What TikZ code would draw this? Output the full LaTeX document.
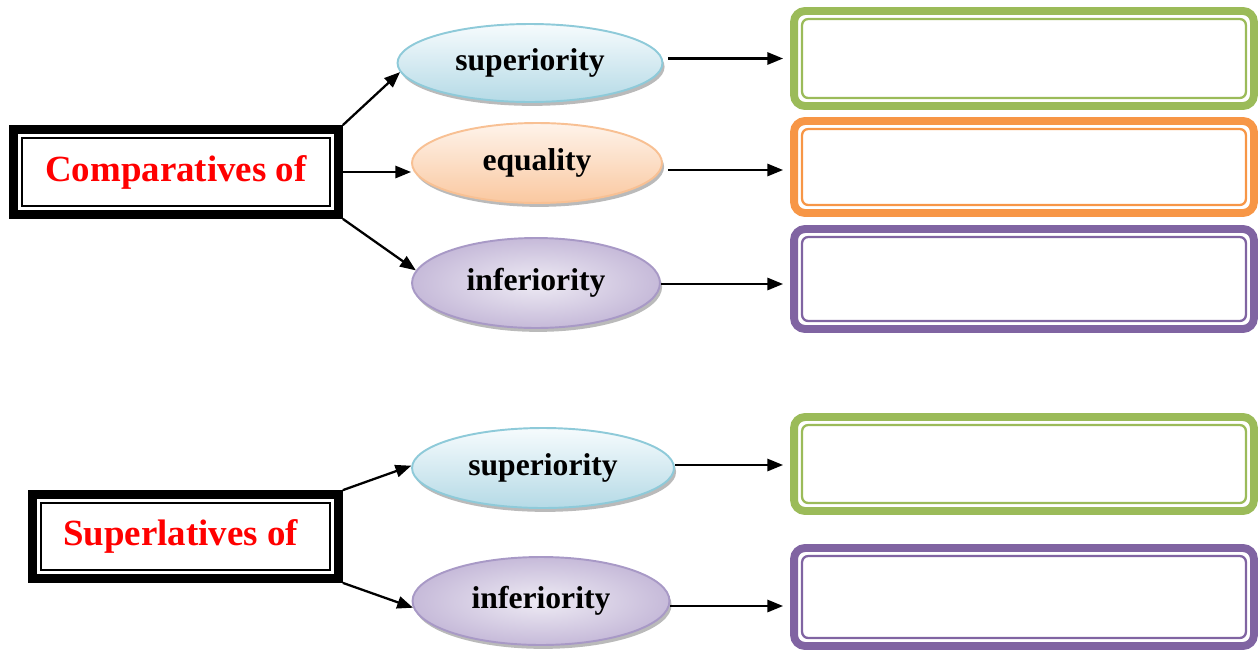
\documentclass[tikz,border=0pt]{standalone}
\usepackage{fontspec}
\setmainfont{Liberation Serif}
\usepackage{tikz}
\usetikzlibrary{arrows.meta, calc, shadows, shapes.geometric}

\definecolor{grn}{HTML}{9BBB59}
\definecolor{org}{HTML}{F79646}
\definecolor{pur}{HTML}{8064A2}

\tikzset{
  head box/.style={draw=black, line width=5pt, fill=white, inner sep=0pt,
    font=\fontsize{21}{25}\selectfont\bfseries, text=red},
  head inner/.style={draw=black, line width=1.4pt},
  kind/.style={ellipse, line width=1.1pt, inner sep=0pt,
    font=\fontsize{18}{22}\selectfont\bfseries,
    drop shadow={shadow xshift=1.2pt, shadow yshift=-2.2pt, fill=black!45, opacity=.6}},
  answer box/.style={draw, line width=4.5pt, rounded corners=0.22cm,
    minimum width=9.2cm, inner sep=0pt},
  answer inner/.style={line width=1.3pt, rounded corners=0.12cm},
  arr/.style={-{Triangle[length=9pt, width=7pt]}, line width=1.3pt}
}

\begin{document}
\begin{tikzpicture}[x=0.02cm, y=-0.02cm]
      \definecolor{bluebd}{HTML}{8ECAD9} \definecolor{bluetop}{HTML}{F6FBFD} \definecolor{bluebot}{HTML}{B5DAE6}
      \definecolor{peachbd}{HTML}{F8C093} \definecolor{peachtop}{HTML}{FEF3EA} \definecolor{peachbot}{HTML}{FAC8A0}
      \definecolor{lilacbd}{HTML}{A899C6} \definecolor{lilacin}{HTML}{EEEBF4} \definecolor{lilacout}{HTML}{C6BAD9}

      \useasboundingbox (0,0) rectangle (1258,650);

      % left boxes
      \node[head box, minimum width=6.5cm, minimum height=1.7cm] (cmp) at (176,172) {Comparatives of};
      \draw[head inner] ($(cmp.north west)+(13,13)$) rectangle ($(cmp.south east)+(-13,-13)$);
      \node[head box, minimum width=6.12cm, minimum height=1.68cm] (sprl) at (185.5,536.5) {\hspace*{-0.2cm}Superlatives of};
      \draw[head inner] ($(sprl.north west)+(13,13)$) rectangle ($(sprl.south east)+(-13,-13)$);

      % ellipses
      \node[kind, draw=bluebd, top color=bluetop, bottom color=bluebot,
        minimum width=5.3cm, minimum height=1.56cm] (sup1) at (530,63) {superiority};
      \node[kind, draw=peachbd, top color=peachtop, bottom color=peachbot,
        minimum width=5.0cm, minimum height=1.6cm] (eq) at (537,163) {equality};
      \node[kind, draw=lilacbd, inner color=lilacin, outer color=lilacout,
        minimum width=4.96cm, minimum height=1.8cm] (inf1) at (536,283) {inferiority};
      \node[kind, draw=bluebd, top color=bluetop, bottom color=bluebot,
        minimum width=5.24cm, minimum height=1.6cm] (sup2) at (543,468) {superiority};
      \node[kind, draw=lilacbd, inner color=lilacin, outer color=lilacout,
        minimum width=5.14cm, minimum height=1.76cm] (inf2) at (541,601) {inferiority};

      % answer boxes
      \foreach \n/\c/\y/\h in {g1/grn/58.5/95, o1/org/167/92, p1/pur/279/100, g2/grn/464/94, p2/pur/597/98} {
        \node[answer box, draw=\c, minimum height=\h*0.02cm] (\n) at (1024,\y) {};
        \draw[answer inner, draw=\c] ($(\n.north west)+(12,12)$) rectangle ($(\n.south east)+(-12,-12)$);
      }

      % connectors
      \draw[arr] (cmp.north east) -- (sup1.184);
      \draw[arr] (cmp.east) -- (cmp.east -| eq.west);
      \draw[arr] (cmp.south east) -- (inf1.174);
      \draw[arr] (sprl.north east) -- (sup2.179);
      \draw[arr] (sprl.south east) -- (inf2.183);
      \foreach \a/\b/\dx/\dy in {sup1/g1/5/0, eq/o1/5/3, inf1/p1/0/5, sup2/g2/0/1, inf2/p2/0/9} {
        \draw[arr, shorten >=4pt] ($(\b.west -| \a.east)+(\dx,\dy)$) -- ($(\b.west)+(0,\dy)$);
      }
    \end{tikzpicture}
\end{document}
